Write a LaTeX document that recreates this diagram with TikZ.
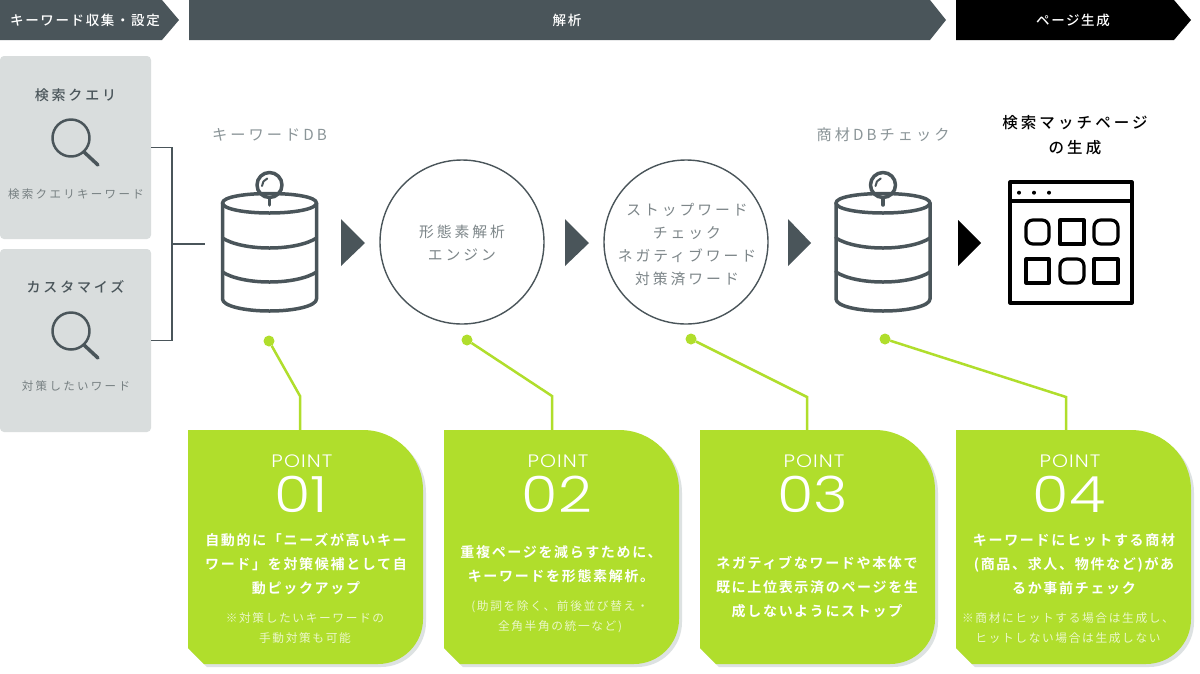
\documentclass[tikz,border=0pt]{standalone}
\usepackage{fontspec}
\setmainfont{Noto Sans CJK JP}
\newfontfamily\jp[LetterSpace=14]{Noto Sans CJK JP}
\newfontfamily\jpw[LetterSpace=20]{Noto Sans CJK JP}
\newfontfamily\jpm[LetterSpace=20]{Noto Sans CJK JP Medium}
\newfontfamily\jph[LetterSpace=12]{Noto Sans CJK JP Medium}
\newfontfamily\jpb[LetterSpace=12]{Noto Sans CJK JP Bold}
\newfontfamily\pop[UprightFont=* Light,FakeStretch=1.18]{Poppins}
\newfontfamily\popp[UprightFont=* Light,LetterSpace=6,FakeStretch=1.13]{Poppins}
\definecolor{dk}{HTML}{4A555A}
\definecolor{lab}{HTML}{8B9598}
\definecolor{boxg}{HTML}{D9DDDD}
\definecolor{grn}{HTML}{B0DE2C}
\definecolor{shd}{HTML}{DDE2E2}
\tikzset{
  every node/.style={inner sep=0pt,outer sep=0pt},
  hdr/.style={font=\jph\fontsize{13.5}{16}\selectfont,text=white},
  boxlab/.style={font=\jpm\fontsize{14}{18}\selectfont,text=dk},
  boxsub/.style={font=\jpw\fontsize{11.5}{15}\selectfont,text=lab!85!black},
  toplab/.style={font=\jpw\fontsize{15.2}{18}\selectfont,text=lab},
  circlab/.style={font=\jpw\fontsize{14.8}{22.8}\selectfont,text=lab!90!black,align=center},
  circbox/.style={circle,draw=dk,line width=1.4pt,minimum size=164pt},
  ptlab/.style={font=\popp\fontsize{18}{20}\selectfont,text=white},
  ptnum/.style={font=\pop\fontsize{50}{50}\selectfont,text=white},
  ptmain/.style={font=\jpb\fontsize{14}{24}\selectfont,text=white,align=center},
  ptnote/.style={font=\jp\fontsize{11.7}{20}\selectfont,text=white!75!grn,align=center},
  icon/.style={draw=dk,line width=3.5pt,line join=round,line cap=round},
  lead/.style={draw=grn,line width=2.5pt},
  leaddot/.style={circle,fill=grn,minimum size=11pt},
  brk/.style={draw=dk,line width=1.5pt},
  web/.style={draw=black,line width=3.2pt,line join=round},
  leftbox/.style={rectangle,rounded corners=4pt,fill=boxg,minimum width=151pt,minimum height=183pt,anchor=north west}
}
\newcommand{\dbicon}[1]{%
 \begin{scope}[shift={(#1,0)}]
  \draw[icon] (0,185) circle[radius=12.5];
  \draw[icon,line width=2pt] (-7.5,186) arc[start angle=180,end angle=250,radius=8];
  \draw[icon] (0,198) -- (0,205);
  \draw[icon] (-47,203) .. controls (-47,197) and (-25,193.5) .. (0,193.5) .. controls (25,193.5) and (47,197) .. (47,203) .. controls (47,209) and (25,213) .. (0,213) .. controls (-25,213) and (-47,209) .. (-47,203) -- cycle;
  \draw[icon] (-47,203) -- (-47,299) .. controls (-47,306) and (-25,311) .. (0,311) .. controls (25,311) and (47,306) .. (47,299) -- (47,203);
  \draw[icon] (-47,238) .. controls (-38,244) and (-20,248) .. (0,248) .. controls (20,248) and (38,244) .. (47,238);
  \draw[icon] (-47,272) .. controls (-38,278) and (-20,282) .. (0,282) .. controls (20,282) and (38,278) .. (47,272);
 \end{scope}}
\newcommand{\lens}[1]{%
 \begin{scope}[shift={(0,#1)}]
  \draw[icon,line width=2.5pt] (71,0) circle[radius=18.5];
  \draw[icon] (84,14) -- (98,27);
 \end{scope}}
\newcommand{\card}[3]{%
 \begin{scope}[shift={(#2,0)}]
  \fill[shd] (3,433) -- (178,433) arc[start angle=-90,end angle=0,radius=60] -- (238,622) arc[start angle=0,end angle=90,radius=45] -- (19,667) -- (3,651) -- cycle;
  \fill[grn] (0,430) -- (175,430) arc[start angle=-90,end angle=0,radius=60] -- (235,619) arc[start angle=0,end angle=90,radius=45] -- (16,664) -- (0,648) -- cycle;
  \node[ptlab] (#1lab) at (114,461) {POINT};
  \node[ptnum] (#1num) at (113,494) {#3};
 \end{scope}}
\begin{document}
\begin{tikzpicture}[x=1pt,y=-1pt]
\useasboundingbox (0,0) rectangle (1200,673);
\fill[white] (0,0) rectangle (1200,673);
% headers
\fill[dk] (0,0) -- (162,0) -- (179,20) -- (162,40) -- (0,40) -- cycle;
\fill[dk] (189,0) -- (930,0) -- (946,20) -- (930,40) -- (189,40) -- cycle;
\fill[black] (956,0) -- (1174,0) -- (1191,20) -- (1174,40) -- (956,40) -- cycle;
\node[hdr] (h1) at (85,20) {キーワード収集・設定};
\node[hdr] (h2) at (567,20) {解析};
\node[hdr] (h3) at (1073,20) {ページ生成};
% left boxes
\node[leftbox] (q1) at (0,56) {};
\node[leftbox] (q2) at (0,249) {};
\node[boxlab] (q1t) at (75.5,95) {検索クエリ};
\node[boxsub] (q1s) at (76,194) {検索クエリキーワード};
\node[boxlab] (q2t) at (75.5,287) {カスタマイズ};
\node[boxsub] (q2s) at (76,386) {対策したいワード};
\lens{138}
\lens{331}
% bracket
\coordinate (bj) at (172,244);
\coordinate (db1in) at (205,244);
\draw[brk] (q1.east) -| (bj);
\draw[brk] (q2.east) -| (bj);
\draw[brk] (bj) -- (db1in);
% top labels
\node[toplab] (l1) at (269.5,135) {キーワードDB};
\node[toplab] (l4) at (883,135) {商材DBチェック};
\node[font=\jpm\fontsize{15.5}{25}\selectfont,text=black,align=center] (l5) at (1075,135) {検索マッチページ\\の生成};
% db icons
\dbicon{269.5}
\dbicon{883}
% circles
\node[circbox] (c1) at (462,242) {};
\node[circbox] (c2) at (686,242) {};
\node[circlab] (c1t) at (462,243) {形態素解析\\エンジン};
\node[circlab] (c2t) at (687,244.5) {ストップワード\\チェック\\ネガティブワード\\対策済ワード};
% triangles
\fill[dk] (341,219) -- (365,243) -- (341,266) -- cycle;
\fill[dk] (565,219) -- (589,243) -- (565,266) -- cycle;
\fill[dk] (788,219) -- (811,243) -- (788,266) -- cycle;
\fill[black] (958,220) -- (981,243) -- (958,266) -- cycle;
% browser icon
\draw[web] (1010,182) rectangle (1132,303);
\draw[web] (1010,201) -- (1132,201);
\foreach \x in {1019,1034,1049} \fill[black] (\x,192.7) circle[radius=2];
\draw[web,rounded corners=7pt] (1026,220) rectangle (1049,244);
\draw[web] (1060,220) rectangle (1084,244);
\draw[web,rounded corners=7pt] (1094,220) rectangle (1118,244);
\draw[web] (1026,259) rectangle (1049,283);
\draw[web,rounded corners=7pt] (1060,259) rectangle (1084,283);
\draw[web] (1094,259) rectangle (1118,283);
% cards
\card{p1}{188}{01}
\card{p2}{444}{02}
\card{p3}{700}{03}
\card{p4}{956}{04}
\node[ptmain] (p1m) at (306,564.5) {自動的に「ニーズが高いキー\\ワード」を対策候補として自\\動ピックアップ};
\node[ptnote] (p1n) at (305,628) {※対策したいキーワードの\\手動対策も可能};
\node[ptmain] (p2m) at (561,564) {重複ページを減らすために、\\キーワードを形態素解析。};
\node[ptnote] (p2n) at (560,617) {(助詞を除く、前後並び替え・\\全角半角の統一など)};
\node[ptmain] (p3m) at (817,587) {ネガティブなワードや本体で\\既に上位表示済のページを生\\成しないようにストップ};
\node[ptmain] (p4m) at (1074,564.5) {キーワードにヒットする商材\\(商品、求人、物件など)があ\\るか事前チェック};
\node[ptnote] (p4n) at (1068,628) {※商材にヒットする場合は生成し、\\ヒットしない場合は生成しない};
% leaders
\node[leaddot] (d1) at (269,341) {};
\node[leaddot] (d2) at (467,340) {};
\node[leaddot] (d3) at (691,339) {};
\node[leaddot] (d4) at (885,339) {};
\coordinate (e1) at (300,396); \coordinate (t1) at (300,430);
\coordinate (e2) at (552,396); \coordinate (t2) at (552,430);
\coordinate (e3) at (807,397); \coordinate (t3) at (807,430);
\coordinate (e4) at (1066,397); \coordinate (t4) at (1066,430);
\draw[lead] (d1) -- (e1) -- (t1);
\draw[lead] (d2) -- (e2) -- (t2);
\draw[lead] (d3) -- (e3) -- (t3);
\draw[lead] (d4) -- (e4) -- (t4);
\end{tikzpicture}
\end{document}
